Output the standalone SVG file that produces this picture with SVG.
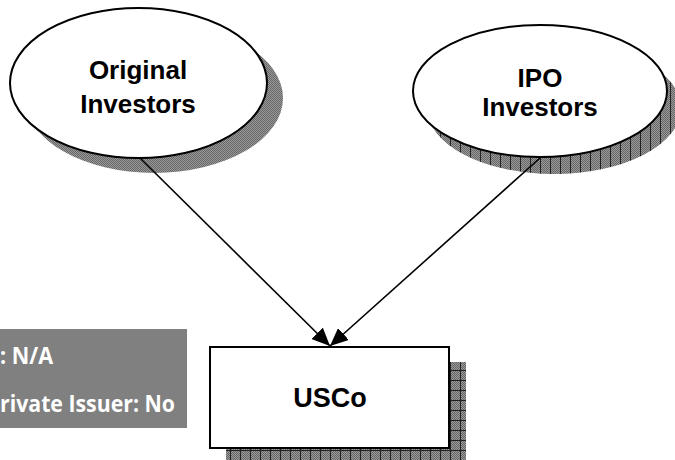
<svg xmlns="http://www.w3.org/2000/svg" width="675" height="460" viewBox="0 0 675 460">
  <style>
    .node-label { font-family: "Liberation Sans", Arial, sans-serif; font-weight: bold; fill: #000; text-anchor: middle; }
    .shape { fill: #fff; stroke: #000; stroke-width: 2; }
    .conn { stroke: #000; stroke-width: 1.6; fill: none; }
    .note { font-family: "Open Sans", "Noto Sans", sans-serif; font-weight: bold; fill: #fff; font-size: 23px; }
  </style>
  <defs>
    <pattern id="dither" width="2" height="2" patternUnits="userSpaceOnUse">
      <rect width="2" height="2" fill="#9a9a9a"/>
      <rect width="1" height="1" fill="#666"/>
      <rect x="1" y="1" width="1" height="1" fill="#666"/>
    </pattern>
    <pattern id="vlines" width="10" height="10" patternUnits="userSpaceOnUse">
      <rect width="10" height="10" fill="url(#dither)"/>
      <rect x="0" y="0" width="1" height="10" fill="#222"/>
    </pattern>
    <pattern id="grid" width="10" height="10" patternUnits="userSpaceOnUse">
      <rect width="10" height="10" fill="url(#dither)"/>
      <rect x="0" y="0" width="1" height="10" fill="#222"/>
      <rect x="0" y="0" width="10" height="1" fill="#222"/>
    </pattern>
    <marker id="arrow" markerUnits="userSpaceOnUse" markerWidth="20" markerHeight="16" refX="18" refY="8" orient="auto">
      <path d="M0,0 L18,8 L0,16 Z" fill="#000"/>
    </marker>
  </defs>

  <g id="note">
    <rect x="0" y="329" width="187" height="99" fill="#808080"/>
    <text class="note" x="0" y="364" textLength="53" lengthAdjust="spacingAndGlyphs">: N/A</text>
    <text class="note" x="0" y="412" textLength="175" lengthAdjust="spacingAndGlyphs">rivate Issuer: No</text>
  </g>

  <g id="original-investors">
    <ellipse cx="154" cy="98" rx="129" ry="75" fill="url(#dither)"/>
    <ellipse class="shape" cx="138.5" cy="83" rx="128.5" ry="75"/>
    <text class="node-label" x="138" y="79" font-size="26">Original</text>
    <text class="node-label" x="138" y="113" font-size="26">Investors</text>
  </g>

  <g id="ipo-investors">
    <ellipse cx="554" cy="108" rx="127" ry="66" fill="url(#vlines)"/>
    <ellipse class="shape" cx="540" cy="91" rx="127" ry="66"/>
    <text class="node-label" x="540" y="87" font-size="26">IPO</text>
    <text class="node-label" x="540" y="116" font-size="26">Investors</text>
  </g>

  <g id="connectors">
    <line class="conn" x1="140" y1="158" x2="330" y2="346" marker-end="url(#arrow)"/>
    <line class="conn" x1="540" y1="158" x2="330" y2="346" marker-end="url(#arrow)"/>
  </g>

  <g id="usco">
    <rect x="226" y="362" width="240" height="98" fill="url(#grid)"/>
    <rect class="shape" x="210" y="347" width="239" height="101" stroke-width="2.5"/>
    <text class="node-label" x="330" y="407" font-size="27">USCo</text>
  </g>
</svg>
